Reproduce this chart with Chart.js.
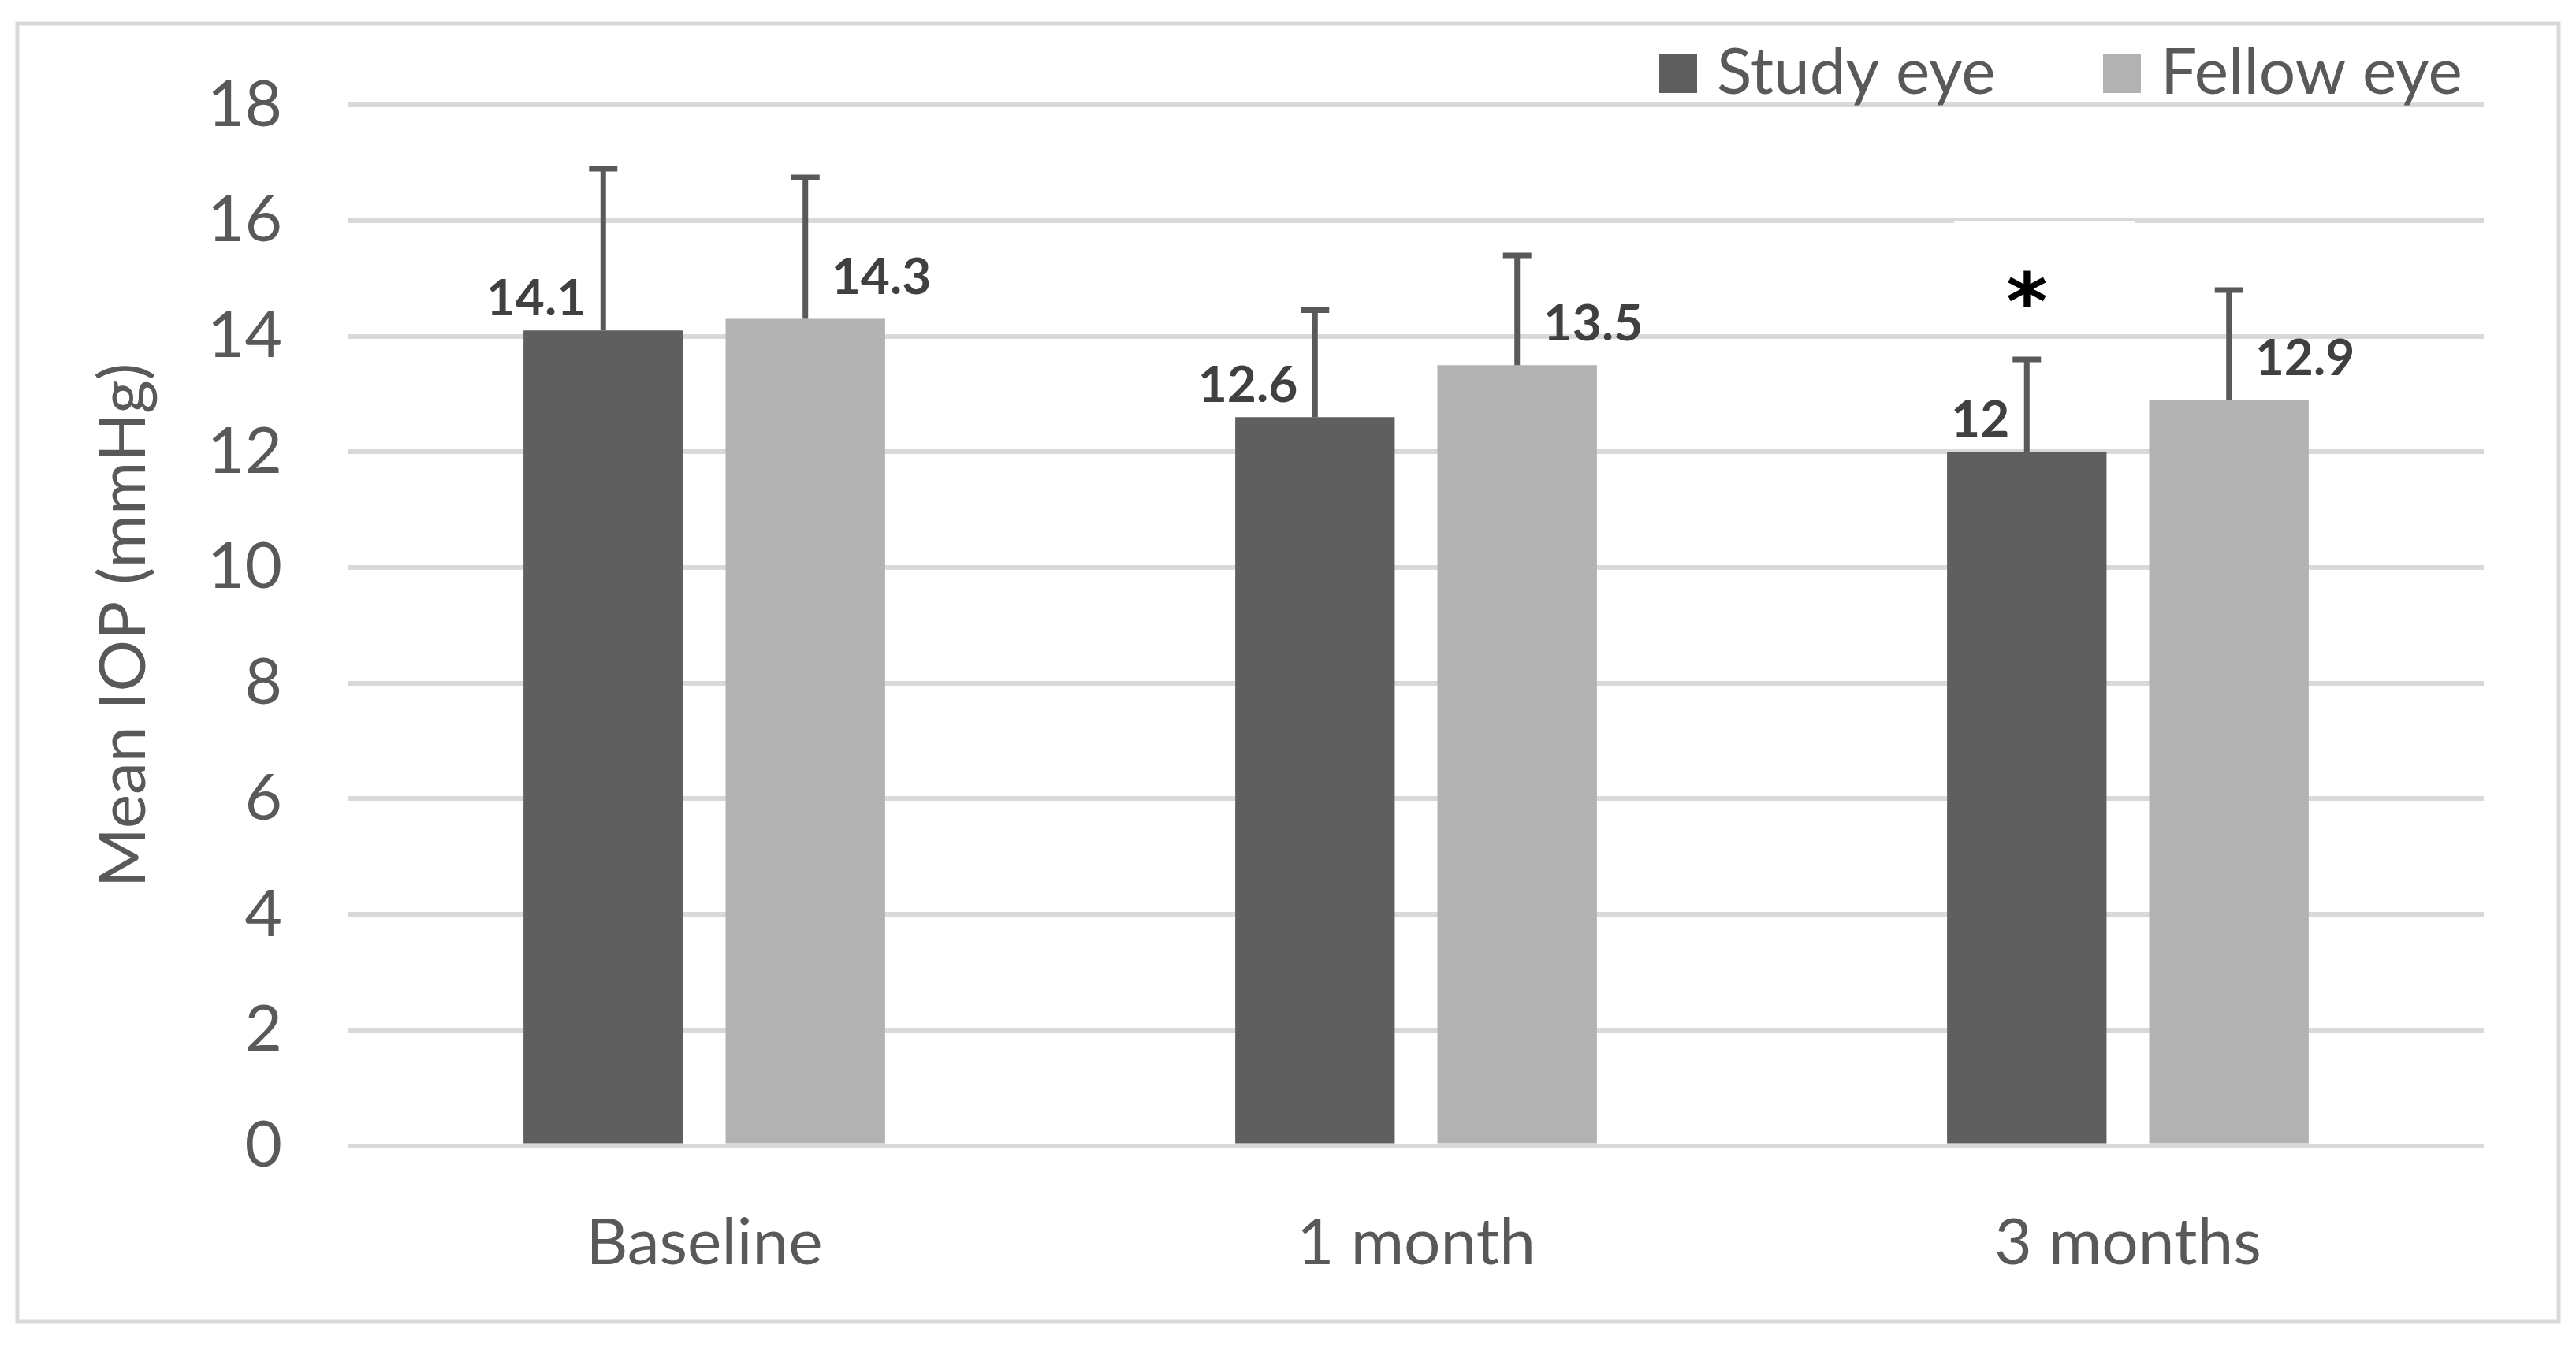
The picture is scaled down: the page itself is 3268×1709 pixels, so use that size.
<!DOCTYPE html>
<html>
<head>
<meta charset="utf-8">
<script src="https://cdn.jsdelivr.net/npm/chart.js@4"></script>
<style>
html,body{margin:0;padding:0;background:#fff;overflow:hidden}
#wrap{width:3268px;height:1709px;position:relative}
</style>
</head>
<body>
<div id="wrap"><canvas id="iopChart" width="3268" height="1709"></canvas></div>
<script>
const timepoints=["Baseline","1 month","3 months"];
const seriesNames=["Study eye","Fellow eye"];
const studyEye=[14.1,12.6,12];
const fellowEye=[14.3,13.5,12.9];
const studySD=[2.8,1.85,1.6];
const fellowSD=[2.45,1.9,1.9];
const significant=[false,false,true];
const yMin=0,yMax=18,yStep=2;

const FONT="Lato";
const TEXT="#595959";
const colors=["#5f5f5f","#b2b2b2"];

// white background + light grey frame round the whole figure
const framePlugin={
    id:'frame',
    beforeDraw(chart){
        const ctx=chart.ctx;
        ctx.save();
        ctx.fillStyle="#fff";
        ctx.fillRect(0,0,chart.width,chart.height);
        ctx.strokeStyle="#d9d9d9";
        ctx.lineWidth=5;
        ctx.strokeRect(22,30,3224,1647);
        ctx.restore();
    }
};

// asterisk (with its white text box) above significant bars
const markPlugin={
    id:'marks',
    afterDatasetsDraw(chart){
        const {ctx,scales:{y}}=chart;
        const meta=chart.getDatasetMeta(0);
        ctx.save();
        significant.forEach((sig,i)=>{
            if(!sig) return;
            const bar=meta.data[i];
            const cap=y.getPixelForValue(studyEye[i]+studySD[i]);
            const top=y.getPixelForValue(16)+1;
            const bottom=y.getPixelForValue(14)-8;
            ctx.fillStyle="#fff";
            ctx.fillRect(bar.x-92,top,229,bottom-top);
            ctx.fillStyle="#000";
            ctx.font="bold 100px 'DejaVu Sans'";
            ctx.textAlign="center";
            ctx.textBaseline="alphabetic";
            ctx.fillText("*",bar.x,cap-90+52);
        });
        ctx.restore();
    }
};

// upper error bars
const errorBarsPlugin={
    id:'errorBars',
    afterDatasetsDraw(chart){
        const {ctx,scales:{y}}=chart;
        const sds=[studySD,fellowSD];
        ctx.save();
        ctx.strokeStyle="#595959";
        ctx.lineWidth=7;
        chart.data.datasets.forEach((ds,di)=>{
            chart.getDatasetMeta(di).data.forEach((bar,i)=>{
                const top=y.getPixelForValue(ds.data[i]+sds[di][i]);
                ctx.beginPath();
                ctx.moveTo(bar.x,bar.y);
                ctx.lineTo(bar.x,top);
                ctx.moveTo(bar.x-18,top);
                ctx.lineTo(bar.x+18,top);
                ctx.stroke();
            });
        });
        ctx.restore();
    }
};

// value labels: study eye to the left of the whisker, fellow eye to the right
const valueLabelPlugin={
    id:'valueLabels',
    afterDatasetsDraw(chart){
        const ctx=chart.ctx;
        ctx.save();
        ctx.font="bold 64px "+FONT;
        ctx.fillStyle="#404040";
        ctx.textBaseline="middle";
        chart.data.datasets.forEach((ds,di)=>{
            chart.getDatasetMeta(di).data.forEach((bar,i)=>{
                if(di===0){
                    ctx.textAlign="right";
                    ctx.fillText(String(ds.data[i]),bar.x-22,bar.y-40);
                }else{
                    ctx.textAlign="left";
                    ctx.fillText(String(ds.data[i]),bar.x+33,bar.y-52);
                }
            });
        });
        ctx.restore();
    }
};

// legend drawn at top right, overlapping the plot top like the original
const legendPlugin={
    id:'topLegend',
    afterDraw(chart){
        const ctx=chart.ctx;
        const starts=[2105,2668];
        ctx.save();
        ctx.font="82px "+FONT;
        ctx.textBaseline="middle";
        ctx.textAlign="left";
        seriesNames.forEach((name,i)=>{
            ctx.fillStyle=colors[i];
            ctx.fillRect(starts[i],68,48,50);
            ctx.fillStyle=TEXT;
            ctx.fillText(name,starts[i]+73,93);
        });
        ctx.restore();
    }
};

new Chart(document.getElementById("iopChart").getContext("2d"),{
    type:'bar',
    data:{
        labels:timepoints,
        datasets:[
            {label:seriesNames[0],data:studyEye,backgroundColor:colors[0],categoryPercentage:0.568,barPercentage:0.789},
            {label:seriesNames[1],data:fellowEye,backgroundColor:colors[1],categoryPercentage:0.568,barPercentage:0.789}
        ]
    },
    options:{
        responsive:false,
        devicePixelRatio:1,
        animation:false,
        layout:{padding:{top:124,right:117,left:0,bottom:0}},
        plugins:{legend:{display:false},tooltip:{enabled:false}},
        scales:{
            x:{
                grid:{display:false},
                border:{display:false},
                ticks:{color:TEXT,font:{family:FONT,size:82},padding:67},
                afterFit(scale){scale.height=255.5;}
            },
            y:{
                min:yMin,max:yMax,
                grid:{color:"#d9d9d9",lineWidth:6,drawTicks:false},
                border:{display:false},
                ticks:{stepSize:yStep,color:TEXT,font:{family:FONT,size:82},padding:84},
                title:{display:true,text:"Mean IOP (mmHg)",color:TEXT,font:{family:FONT,size:82},padding:{top:108,bottom:0}},
                afterFit(scale){scale.width=442;}
            }
        }
    },
    plugins:[framePlugin,markPlugin,errorBarsPlugin,valueLabelPlugin,legendPlugin]
});
</script>
</body>
</html>
